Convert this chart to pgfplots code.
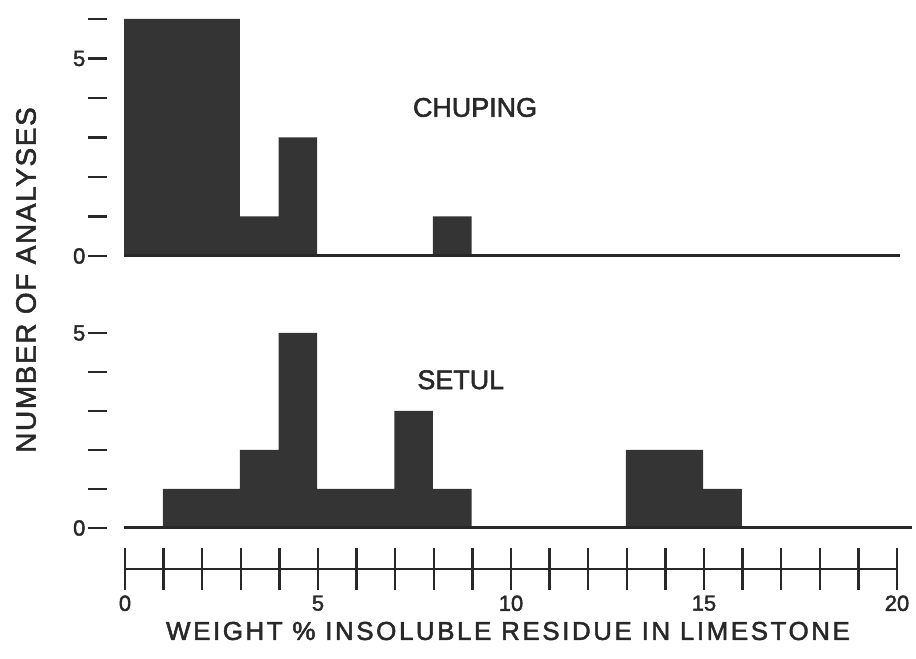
\documentclass[border=0pt]{standalone}
\usepackage{fontspec}
\setmainfont{Liberation Sans}[FakeBold=2]
\newfontfamily\lsA{Liberation Sans}[LetterSpace=10, FakeBold=2]
\newfontfamily\lsB{Liberation Sans}[LetterSpace=6, FakeBold=2]
\usepackage{pgfplots}
\pgfplotsset{compat=1.18}
\definecolor{barcol}{RGB}{52,52,52}
\definecolor{ink}{RGB}{40,40,40}
\newcommand{\tl}[1]{{\fontsize{22}{22}\selectfont #1}}
\begin{document}
\begin{tikzpicture}
\path[use as bounding box] (0,0) rectangle (916bp,659bp);
\pgfplotsset{
  panel/.style={
    axis x line=none, axis y line=left,
    y axis line style={draw=none},
    ytick align=inside, major tick length=20bp,
    ytick style={line width=2.7bp, ink},
    x=38.6bp, xmin=-0.95, ymin=0, clip=false,
    anchor=south west,
    yticklabel style={text=ink, inner xsep=2bp},
    /pgf/number format/assume math mode=true,
  }
}
% top panel: CHUPING
\begin{axis}[panel, at={(87.5bp,403bp)}, xmax=20.2, y=39.5bp, ymax=6,
  ytick={0,...,6}, yticklabels={\tl{0},,,,,\tl{5},}]
\addplot[ybar interval, fill=barcol, draw=none] coordinates {(0,6)(3,1)(4,3)(5,0)(8,1)(9,0)};
\addplot[ink, line width=3bp] coordinates {(0,0)(20.1,0)};
\node[text=ink, font=\fontsize{27}{27}\selectfont] at (axis cs:9.09,3.76) {CHUPING};
\end{axis}
% bottom panel: SETUL
\begin{axis}[panel, at={(87.5bp,131bp)}, xmax=20.5, y=39bp, ymax=5,
  ytick={0,...,5}, yticklabels={\tl{0},,,,,\tl{5}},
  ylabel={NUMBER OF ANALYSES},
  ylabel style={at={(axis description cs:-0.0742,1.2718)}, anchor=center,
    font=\lsB\fontsize{28}{28}\selectfont, text=ink}]
\addplot[ybar interval, fill=barcol, draw=none] coordinates {(1,1)(3,2)(4,5)(5,1)(7,3)(8,1)(9,0)(13,2)(15,1)(16,0)};
\addplot[ink, line width=3bp] coordinates {(0,0)(20.4,0)};
\node[text=ink, font=\fontsize{27}{27}\selectfont] at (axis cs:8.72,3.8) {SETUL};
\end{axis}
% scale axis
\begin{axis}[at={(125bp,90bp)}, anchor=south west, x=38.6bp, y=100bp,
  xmin=0, xmax=20, ymin=0, ymax=1,
  axis x line=bottom, axis y line=none,
  x axis line style={-, line width=2.4bp, ink},
  xtick={0,...,20}, xticklabels={\tl{0},,,,,\tl{5},,,,,\tl{10},,,,,\tl{15},,,,,\tl{20}},
  xtick align=center, major tick length=42bp,
  xtick style={line width=2.4bp, ink},
  xticklabel style={text=ink, yshift=-2bp},
  /pgf/number format/assume math mode=true,
  xlabel={WEIGHT \% INSOLUBLE RESIDUE IN LIMESTONE},
  xlabel style={at={(axis description cs:0.4961,-0.62)}, anchor=center,
    font=\lsA\fontsize{26}{26}\selectfont, text=ink}]
\end{axis}
\end{tikzpicture}
\end{document}
